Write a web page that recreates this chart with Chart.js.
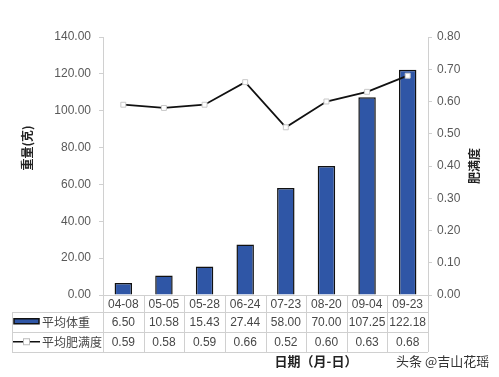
<!DOCTYPE html>
<html><head><meta charset="utf-8">
<script src="https://cdn.jsdelivr.net/npm/chart.js@4.4.1/dist/chart.umd.min.js"></script>
<style>html,body{margin:0;padding:0;background:#fff}#wrap{width:499px;height:377px}</style>
</head><body><div id="wrap"><canvas id="c"></canvas></div>
<script>
const categories = ['04-08','05-05','05-28','06-24','07-23','08-20','09-04','09-23'];
const avgWeight = [6.50, 10.58, 15.43, 27.44, 58.00, 70.00, 107.25, 122.18];
const avgFullness = [0.59, 0.58, 0.59, 0.66, 0.52, 0.60, 0.63, 0.68];
const weightLabel = '平均体重';
const fullnessLabel = '平均肥满度';
const leftTitle = '重量(克)';
const rightTitle = '肥满度';
const xTitle = '日期（月-日）';
const watermark = '头条 @吉山花瑶';

const FONT = '"Liberation Sans", Arial, "Noto Sans CJK SC", sans-serif';
const CJK = '"Noto Sans CJK SC", "Liberation Sans", sans-serif';
const BAR = '#2F56A6';
const GRID = '#d0d0d0';
const TXT = '#474747';

const tablePlugin = {
  id: 'tablePlugin',
  afterDraw(chart) {
    const ctx = chart.ctx;
    const x = chart.scales.x;
    const ca = chart.chartArea;
    const n = categories.length;
    const L = ca.left, R = ca.right, w = (R - L) / n;
    const y0 = ca.bottom, y1 = y0 + 17, y2 = y1 + 19.5, y3 = y2 + 20.5;
    const tl = 12;
    ctx.save();
    ctx.strokeStyle = GRID; ctx.lineWidth = 1;
    ctx.beginPath();
    ctx.moveTo(L, y0 + 0.5); ctx.lineTo(R, y0 + 0.5);
    [y1, y2, y3].forEach(yy => { ctx.moveTo(tl, Math.round(yy) + 0.5); ctx.lineTo(R, Math.round(yy) + 0.5); });
    for (let i = 0; i <= n; i++) {
      const xx = Math.round(L + i * w) + 0.5;
      ctx.moveTo(xx, y0); ctx.lineTo(xx, Math.round(y3));
    }
    ctx.moveTo(tl + 0.5, Math.round(y1)); ctx.lineTo(tl + 0.5, Math.round(y3));
    ctx.stroke();

    ctx.fillStyle = TXT;
    ctx.font = '12px ' + FONT;
    ctx.textAlign = 'center'; ctx.textBaseline = 'middle';
    for (let i = 0; i < n; i++) {
      const cx = x.getPixelForValue(i);
      ctx.fillText(categories[i], cx, (y0 + y1) / 2 + 1);
      ctx.fillText(avgWeight[i].toFixed(2), cx, (y1 + y2) / 2 + 1);
      ctx.fillText(avgFullness[i].toFixed(2), cx, (y2 + y3) / 2 + 1);
    }
    const r1 = (y1 + y2) / 2, r2 = (y2 + y3) / 2;
    ctx.fillStyle = BAR; ctx.strokeStyle = '#111'; ctx.lineWidth = 1.5;
    ctx.fillRect(14, r1 - 3, 25, 5); ctx.strokeRect(14, r1 - 3, 25, 5);
    ctx.beginPath(); ctx.strokeStyle = '#111'; ctx.lineWidth = 1.5;
    ctx.moveTo(13, r2); ctx.lineTo(40, r2); ctx.stroke();
    ctx.fillStyle = '#fff'; ctx.strokeStyle = '#bbb'; ctx.lineWidth = 1;
    ctx.fillRect(23.5, r2 - 3, 6, 6); ctx.strokeRect(23.5, r2 - 3, 6, 6);
    ctx.fillStyle = TXT; ctx.textAlign = 'left';
    ctx.font = '12px ' + CJK;
    ctx.fillText(weightLabel, 42, r1 + 1);
    ctx.fillText(fullnessLabel, 42, r2 + 1);
    ctx.fillStyle = '#222';
    ctx.font = 'bold 12px ' + CJK;
    ctx.textAlign = 'center';
    [[leftTitle, 27, 148], [rightTitle, 474, 166]].forEach(([t, tx, ty]) => {
      ctx.save(); ctx.translate(tx, ty); ctx.rotate(-Math.PI / 2);
      ctx.fillText(t, 0, 0); ctx.restore();
    });
    ctx.font = 'bold 13px ' + CJK;
    ctx.fillStyle = '#222'; ctx.textAlign = 'center';
    ctx.fillText(xTitle, 316, 361);
    ctx.font = '13px ' + CJK;
    ctx.fillStyle = '#333'; ctx.textAlign = 'left';
    ctx.fillText(watermark, 396, 361);
    ctx.restore();
  }
};

new Chart(document.getElementById('c'), {
  data: {
    labels: categories,
    datasets: [
      {
        type: 'line', label: fullnessLabel, data: avgFullness, yAxisID: 'y1',
        borderColor: '#111', borderWidth: 1.8, tension: 0,
        pointStyle: 'rect', pointRadius: 3.5, pointBackgroundColor: '#fff',
        pointBorderColor: '#c8c8c8', pointBorderWidth: 1, order: 0
      },
      {
        type: 'bar', label: weightLabel, data: avgWeight, yAxisID: 'y',
        backgroundColor: BAR, borderColor: '#111', borderWidth: 1.5,
        barPercentage: 0.43, categoryPercentage: 1, order: 1
      }
    ]
  },
  options: {
    responsive: true, maintainAspectRatio: false, animation: false,
    layout: { padding: { top: 37, bottom: 82, left: 0, right: 0 } },
    plugins: { legend: { display: false }, tooltip: { enabled: false } },
    scales: {
      x: { display: false },
      y: {
        position: 'left', min: 0, max: 140,
        afterFit(s) { s.width = 103; },
        ticks: { stepSize: 20, padding: 8, color: '#595959', font: { size: 12, family: FONT }, callback: v => v.toFixed(2) },
        grid: { drawOnChartArea: false, tickLength: 4, color: GRID },
        border: { color: GRID }
      },
      y1: {
        position: 'right', min: 0, max: 0.8,
        afterFit(s) { s.width = 71; },
        ticks: { stepSize: 0.1, padding: 5, color: '#595959', font: { size: 12, family: FONT }, callback: v => v.toFixed(2) },
        grid: { drawOnChartArea: false, tickLength: 4, color: GRID },
        border: { color: GRID }
      }
    }
  },
  plugins: [tablePlugin]
});
</script></body></html>
